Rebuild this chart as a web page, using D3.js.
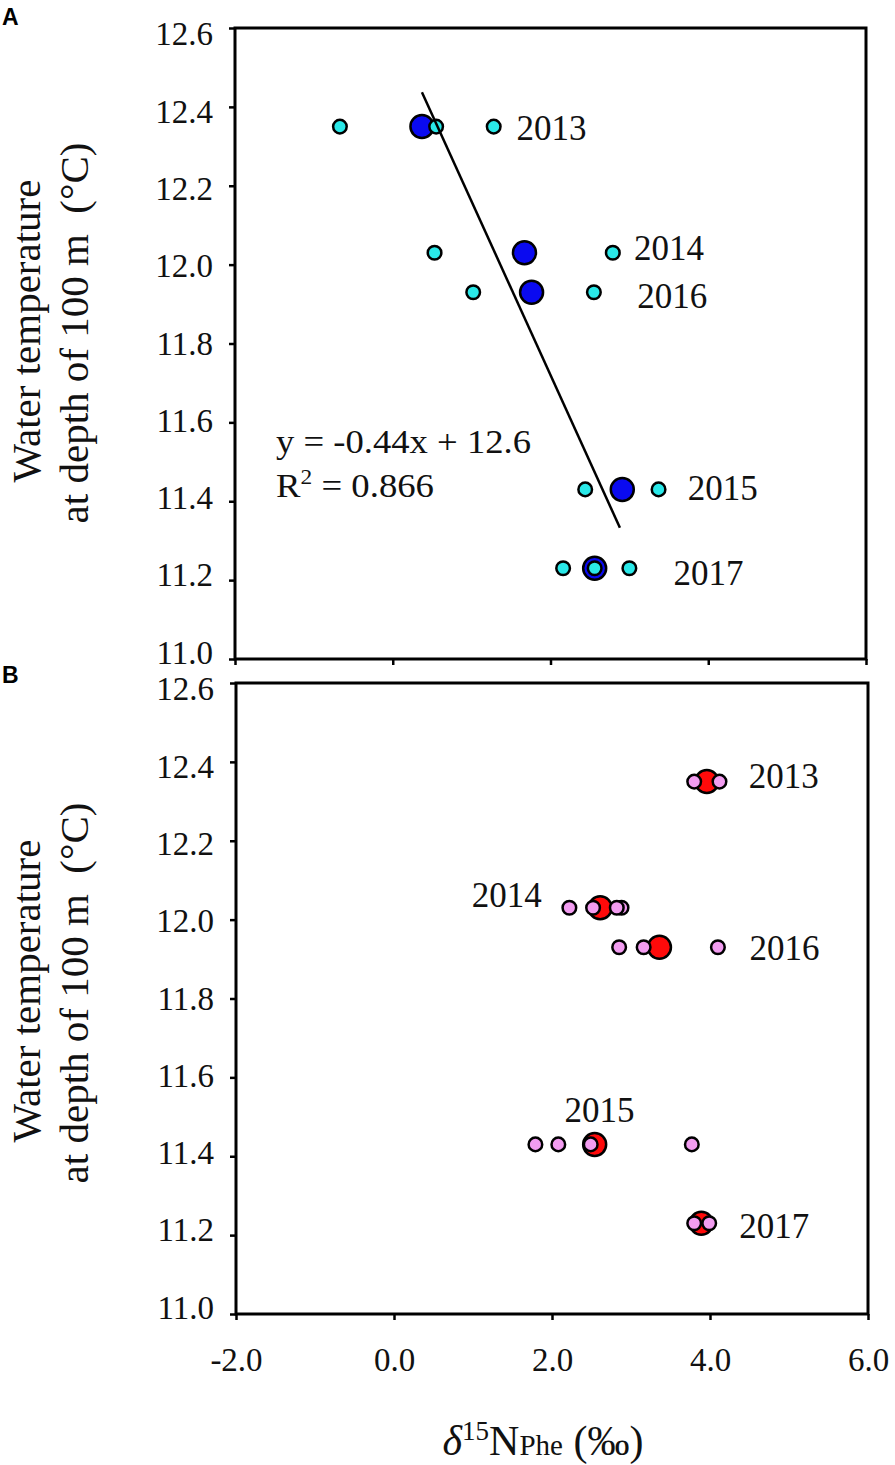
<!DOCTYPE html>
<html>
<head>
<meta charset="utf-8">
<script src="https://cdn.jsdelivr.net/npm/d3@7"></script>
<style>
body { margin: 0; background: #fff; }
svg text { font-family: "Liberation Serif", "Times New Roman", serif; fill: #111; }
svg text.panel-tag { font-family: "Liberation Sans", Arial, sans-serif; font-weight: bold; fill: #000; }
</style>
</head>
<body>
<div id="chart"></div>
<script>
var years = ['2013', '2014', '2016', '2015', '2017'];
var temps = [12.35, 12.03, 11.93, 11.43, 11.23];

// panel A: single values (cyan) and yearly means (blue)
var aSmall = [[-0.67, 0.55, 1.28], [0.53, 2.79], [1.02, 2.55], [2.44, 3.37], [2.16, 2.56, 3.0]];
var aLarge = [0.37, 1.67, 1.76, 2.91, 2.56];
var aLabelX = [1.57, 3.06, 3.10, 3.74, 3.56];
var aLabelT = [12.316, 12.012, 11.890, 11.403, 11.188];

// panel B: single values (pink) and yearly means (red)
var bSmall = [[3.80, 4.12], [2.22, 2.52, 2.88, 2.82], [2.85, 3.16, 4.10], [1.79, 2.08, 2.49, 3.77], [3.80, 3.99]];
var bLarge = [3.96, 2.61, 3.36, 2.54, 3.89];
var bLabelX = [4.49, 1.87, 4.50, 2.60, 4.37];
var bLabelT = [12.334, 12.032, 11.898, 11.487, 11.193];
var bLabelAnchor = ['start', 'end', 'start', 'middle', 'start'];

var fitSlope = -0.44, fitIntercept = 12.6, fitFrom = 0.37, fitTo = 2.88;
var eqLines = ['y = -0.44x + 12.6', 'R2 = 0.866'];

var xTicks = [-2, 0, 2, 4, 6];
var yTicks = [11.0, 11.2, 11.4, 11.6, 11.8, 12.0, 12.2, 12.4, 12.6];

var W = 895, H = 1465;

var svg = d3.select('#chart')
	.append('svg')
	.attr('width', W)
	.attr('height', H);

function drawPanel(box, small, large, smallFill, largeFill, showXLabels) {
	var x = d3.scaleLinear().domain([-2, 6]).range([box.left, box.left + box.width]);
	var y = d3.scaleLinear().domain([11, 12.6]).range([box.top + box.height, box.top]);
	var mid = box.top + box.height / 2;

	var yAxis = svg.append('g')
		.attr('transform', 'translate(' + box.left + ',0)')
		.call(d3.axisLeft(y).tickValues(yTicks).tickSize(6).tickPadding(16)
			.tickFormat(function(d) { return d.toFixed(1); }));
	yAxis.select('.domain').remove();
	yAxis.selectAll('line').attr('stroke', '#000').attr('stroke-width', 2.5);
	// labels sit a touch closer to the middle than their ticks
	yAxis.selectAll('text')
		.attr('font-size', 33)
		.attr('fill', '#111')
		.attr('y', function(d) { return (mid - y(d)) * 0.02; });

	var xAxis = svg.append('g')
		.attr('transform', 'translate(0,' + (box.top + box.height) + ')')
		.call(d3.axisBottom(x).tickValues(xTicks).tickSize(6).tickPadding(28)
			.tickFormat(function(d) { return showXLabels ? d.toFixed(1) : ''; }));
	xAxis.select('.domain').remove();
	xAxis.selectAll('line').attr('stroke', '#000').attr('stroke-width', 2.5);
	xAxis.selectAll('text')
		.attr('font-size', 33)
		.attr('fill', '#111');

	svg.append('rect')
		.attr('x', box.left)
		.attr('y', box.top)
		.attr('width', box.width)
		.attr('height', box.height)
		.attr('fill', 'none')
		.attr('stroke', '#000')
		.attr('stroke-width', 3);

	var bigPts = large.map(function(v, i) { return {x: v, t: temps[i]}; });
	var smallPts = [];
	small.forEach(function(list, i) {
		list.forEach(function(v) { smallPts.push({x: v, t: temps[i]}); });
	});

	svg.append('g').selectAll('circle')
		.data(bigPts)
		.enter()
		.append('circle')
		.attr('cx', function(d) { return x(d.x); })
		.attr('cy', function(d) { return y(d.t); })
		.attr('r', 11.5)
		.attr('fill', largeFill)
		.attr('stroke', '#000')
		.attr('stroke-width', 2.5);

	svg.append('g').selectAll('circle')
		.data(smallPts)
		.enter()
		.append('circle')
		.attr('cx', function(d) { return x(d.x); })
		.attr('cy', function(d) { return y(d.t); })
		.attr('r', 6.8)
		.attr('fill', smallFill)
		.attr('stroke', '#000')
		.attr('stroke-width', 2.5);

	return {x: x, y: y};
}

function yearLabels(sc, lx, lt, anchors) {
	svg.append('g').selectAll('text')
		.data(years)
		.enter()
		.append('text')
		.attr('x', function(d, i) { return sc.x(lx[i]); })
		.attr('y', function(d, i) { return sc.y(lt[i]); })
		.attr('text-anchor', function(d, i) { return anchors ? anchors[i] : 'start'; })
		.attr('font-size', 35)
		.text(function(d) { return d; });
}

function yLabel(cy) {
	var g = svg.append('g').attr('transform', 'translate(0,' + cy + ') rotate(-90)');
	g.append('text')
		.attr('x', 0).attr('y', 40)
		.attr('text-anchor', 'middle')
		.attr('font-size', 41)
		.text('Water temperature');
	g.append('text')
		.attr('x', -2).attr('y', 88)
		.attr('text-anchor', 'middle')
		.attr('font-size', 41)
		.text('at depth of 100 m\u00a0\u00a0(\u00b0C)');
}

var A = drawPanel({left: 235, top: 28, width: 631, height: 631}, aSmall, aLarge, '#2ae8e8', '#0a0af0', false);
var B = drawPanel({left: 236, top: 683, width: 632, height: 631}, bSmall, bLarge, '#f29cf0', '#ff0a0a', true);

// regression line, panel A
svg.append('line')
	.attr('x1', A.x(fitFrom))
	.attr('y1', A.y(fitSlope * fitFrom + fitIntercept))
	.attr('x2', A.x(fitTo))
	.attr('y2', A.y(fitSlope * fitTo + fitIntercept))
	.attr('stroke', '#000')
	.attr('stroke-width', 2.5);

yearLabels(A, aLabelX, aLabelT);
yearLabels(B, bLabelX, bLabelT, bLabelAnchor);

svg.append('text')
	.attr('x', A.x(-1.48))
	.attr('y', A.y(11.522))
	.attr('font-size', 33)
	.attr('textLength', 255)
	.attr('lengthAdjust', 'spacingAndGlyphs')
	.text(eqLines[0]);
var r2 = svg.append('text')
	.attr('x', A.x(-1.48))
	.attr('y', A.y(11.41))
	.attr('font-size', 33)
	.attr('textLength', 158)
	.attr('lengthAdjust', 'spacingAndGlyphs');
r2.append('tspan').text('R');
r2.append('tspan').attr('font-size', 21).attr('dy', -13).text('2');
r2.append('tspan').attr('dy', 13).text(eqLines[1].slice(2));

yLabel(331);
yLabel(991);

// x axis title
var xt = svg.append('text')
	.attr('x', 543)
	.attr('y', 1455)
	.attr('text-anchor', 'middle')
	.attr('font-size', 42);
xt.append('tspan').attr('font-style', 'italic').text('\u03b4');
xt.append('tspan').attr('font-size', 27).attr('dy', -15).text('15');
xt.append('tspan').attr('dy', 15).text('N');
xt.append('tspan').attr('font-size', 29).text('Phe');
xt.append('tspan').text(' (\u2030)');

svg.append('text')
	.attr('class', 'panel-tag')
	.attr('x', 2).attr('y', 25)
	.attr('font-size', 23)
	.text('A');
svg.append('text')
	.attr('class', 'panel-tag')
	.attr('x', 2).attr('y', 683)
	.attr('font-size', 23)
	.text('B');
</script>
</body>
</html>
